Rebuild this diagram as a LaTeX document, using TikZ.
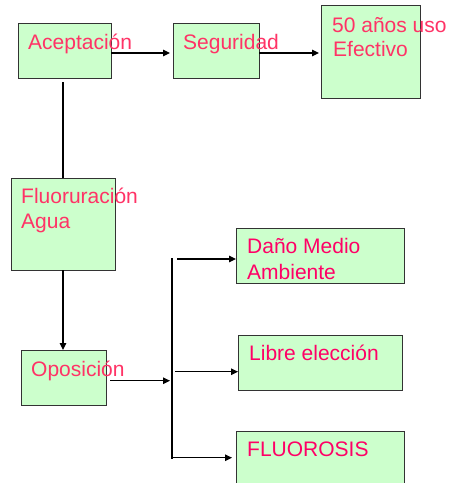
\documentclass[tikz,border=0pt]{standalone}
\usepackage{fontspec}
\setmainfont{Liberation Sans}
\usetikzlibrary{arrows.meta,calc}
\definecolor{boxfill}{HTML}{CCFFCC}
\definecolor{boxline}{HTML}{333333}
\definecolor{txtA}{HTML}{FF3366}
\definecolor{txtB}{HTML}{FF0066}
\tikzset{
  box/.style={draw=boxline, line width=1pt, fill=boxfill, inner sep=0pt, outer sep=0pt},
  lbl/.style={anchor=base west, inner sep=0pt, font=\fontsize{21}{25}\selectfont, align=left},
  link/.style={draw=black, line width=1.2pt},
  arr/.style={link, -{Triangle[length=7pt,width=6.5pt]}},
  bar/.style={draw=black, line width=2pt},
}
\begin{document}
\begin{tikzpicture}[x=1pt, y=-1pt]
\useasboundingbox (0,0) rectangle (450,483);
\fill[white] (0,0) rectangle (450,483);

% boxes
\node[box, minimum width=93pt, minimum height=55pt] (acep) at (64.5,50.5) {};
\node[box, minimum width=86pt, minimum height=55pt] (seg) at (216,50.5) {};
\node[box, minimum width=99pt, minimum height=93pt] (uso) at (370.5,51.5) {};
\node[box, minimum width=104pt, minimum height=92pt] (fluor) at (63,224) {};
\node[box, minimum width=85pt, minimum height=55pt] (opos) at (63.5,377.5) {};
\node[box, minimum width=168pt, minimum height=55pt] (dano) at (320,255.5) {};
\node[box, minimum width=164pt, minimum height=55pt] (libre) at (320,362.5) {};
\node[box, minimum width=168pt, minimum height=58pt] (fluoro) at (320,460) {};

% labels
\node[lbl, text=txtA] (tacep) at (28,49) {Aceptación};
\node[lbl, text=txtA] (tseg) at (183,49) {Seguridad};
\node[lbl, text=txtA] (tuso1) at (332,32) {50 años uso};
\node[lbl, text=txtA] (tuso2) at (333,56) {Efectivo};
\node[lbl, text=txtA] (tfl1) at (21,203) {Fluoruración};
\node[lbl, text=txtA] (tfl2) at (21,228.5) {Agua};
\node[lbl, text=txtA] (topos) at (31,376) {Oposición};
\node[lbl, text=txtB] (tdan1) at (247,253) {Daño Medio};
\node[lbl, text=txtB] (tdan2) at (247,279) {Ambiente};
\node[lbl, text=txtB] (tlib) at (249,360.5) {Libre elección};
\node[lbl, text=txtB] (tflu) at (247,456) {FLUOROSIS};

% branching bar and the start points of its branches
\coordinate (bartop) at (172,258);
\coordinate (barbot) at (172,459);
\coordinate (barin) at (170,380.7);
\coordinate (brdano) at (177,259);
\coordinate (brlibre) at (175,371.7);
\coordinate (brfluoro) at (172,457.7);

% connectors along the top row
\draw[arr] ([yshift=-2.5pt]acep.east) -- ([xshift=-3pt,yshift=-2.5pt]seg.west);
\draw[arr] ([yshift=-2.5pt]seg.east) -- ([xshift=-2pt,yshift=-1.5pt]uso.west);

% left column
\draw[link] ([xshift=-1.5pt,yshift=-4pt]acep.south) -- ([xshift=-1.5pt]acep.south |- fluor.north);
\draw[arr] (fluor.south) -- (opos.north -| fluor.south);

% into the bar and out to the branches
\draw[arr] ([xshift=4pt,yshift=-3.2pt]opos.east) -- (barin);
\draw[bar] (bartop) -- (barbot);
\draw[arr] (brdano) -- (dano.west |- brdano);
\draw[arr] (brlibre) -- (libre.west |- brlibre);
\draw[arr] (brfluoro) -- ([xshift=-4pt]fluoro.west |- brfluoro);
\end{tikzpicture}
\end{document}
